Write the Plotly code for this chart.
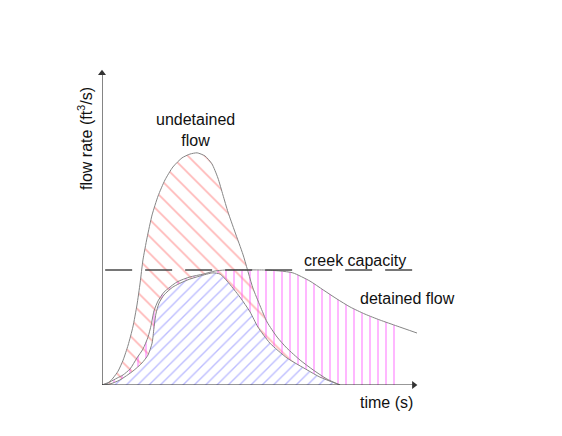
import numpy as np
import plotly.graph_objects as go

# ---- data (schematic hydrographs; time and flow in arbitrary units) ----
undetained_t = [0, 0.19, 0.35, 0.51, 0.67, 0.83, 0.98, 1.11, 1.21, 1.30, 1.43, 1.59, 1.78, 2.00, 2.25,
                2.54, 2.79, 3.02, 3.27, 3.49, 3.68, 3.84, 4.00, 4.22, 4.48, 4.79, 5.02, 5.24, 5.56,
                5.87, 6.29, 6.70, 7.14, 7.56]
undetained_q = [0, 0.06, 0.22, 0.44, 0.79, 1.27, 1.84, 2.54, 3.24, 3.97, 4.67, 5.40, 6.00, 6.51, 6.92,
                7.21, 7.33, 7.37, 7.27, 7.02, 6.57, 6.03, 5.49, 4.86, 4.13, 3.08, 2.51, 2.00, 1.52,
                1.17, 0.79, 0.48, 0.19, 0]

base_t = [0, 0.25, 0.57, 0.98, 1.27, 1.46, 1.59, 1.65, 1.71, 1.81, 1.97, 2.25, 2.70, 3.11, 3.52,
          3.75, 3.97, 4.38, 4.70, 4.95, 5.33, 5.87, 6.51, 6.92, 7.56]
base_q = [0, 0.03, 0.16, 0.44, 0.70, 0.95, 1.33, 1.81, 2.25, 2.60, 2.86, 3.11, 3.33, 3.46, 3.56,
          3.52, 3.30, 2.79, 2.32, 1.84, 1.33, 0.86, 0.48, 0.25, 0]

detained_t = [0, 0.25, 0.48, 0.67, 0.89, 1.11, 1.30, 1.46, 1.56, 1.65, 1.78, 1.97, 2.38, 2.79, 3.21,
              3.59, 3.90, 5.17, 5.65, 6.06, 6.60, 7.02, 7.46, 7.87, 8.35, 8.83, 9.37, 10.0]
detained_q = [0, 0.10, 0.22, 0.32, 0.51, 0.86, 1.14, 1.52, 1.90, 2.35, 2.67, 2.95, 3.27, 3.43, 3.52,
              3.62, 3.65, 3.65, 3.62, 3.56, 3.30, 3.02, 2.73, 2.48, 2.25, 2.06, 1.87, 1.65]

creek_capacity = 3.65
capacity_t = [0.1, 9.87]
hatch_end = 9.37

labels = {
    "undetained": "undetained<br>flow",
    "capacity": "creek capacity",
    "detained": "detained flow",
    "xlabel": "time (s)",
    "ylabel": "flow rate (ft<sup>3</sup>/s)",
}

X_MAX = 10.0
Y_MAX = 10.0
FONT = "Liberation Sans, Arial, sans-serif"
CURVE = "#858585"
AXIS = "#333333"

fig = go.Figure()

# undetained flow area (red hatch, transparent)
fig.add_trace(go.Scatter(
    x=undetained_t, y=undetained_q, mode="lines", line=dict(width=0, shape="spline", smoothing=0.6),
    fill="tozeroy", fillcolor="rgba(0,0,0,0)",
    fillpattern=dict(shape="\\", fgcolor="#ff7070", bgcolor="rgba(0,0,0,0)", size=12, solidity=0.14),
    hoverinfo="skip", showlegend=False))

# detained flow area (magenta vertical hatch), truncated
dt = np.array(detained_t)
dq = np.array(detained_q)
mask = dt <= hatch_end + 1e-9
fig.add_trace(go.Scatter(
    x=dt[mask], y=dq[mask], mode="lines", line=dict(width=0, shape="spline", smoothing=0.6),
    fill="tozeroy", fillcolor="rgba(0,0,0,0)",
    fillpattern=dict(shape="|", fgcolor="#ff4cff", bgcolor="rgba(0,0,0,0)", size=8, solidity=0.2),
    hoverinfo="skip", showlegend=False))

# base flow area (blue hatch, opaque)
fig.add_trace(go.Scatter(
    x=base_t, y=base_q, mode="lines", line=dict(color=CURVE, width=1, shape="spline", smoothing=0.6),
    fill="tozeroy", fillcolor="white",
    fillpattern=dict(shape="/", fgcolor="#7a7aff", bgcolor="white", size=8, solidity=0.17),
    hoverinfo="skip", showlegend=False))

# curve outlines on top
fig.add_trace(go.Scatter(x=undetained_t, y=undetained_q, mode="lines",
                         line=dict(color=CURVE, width=1, shape="spline", smoothing=0.6),
                         hoverinfo="skip", showlegend=False))
fig.add_trace(go.Scatter(x=detained_t, y=detained_q, mode="lines",
                         line=dict(color=CURVE, width=1, shape="spline", smoothing=0.6),
                         hoverinfo="skip", showlegend=False))

# creek capacity dashed line
fig.add_trace(go.Scatter(x=capacity_t, y=[creek_capacity, creek_capacity], mode="lines",
                         line=dict(color="#4a4a4a", width=1.6, dash="27px,13px"),
                         hoverinfo="skip", showlegend=False))

# axes lines with arrowheads
fig.add_trace(go.Scatter(x=[0, 0, None, 0, X_MAX - 0.1], y=[Y_MAX - 0.1, 0, None, 0, 0], mode="lines",
                         line=dict(color=AXIS, width=1.2), cliponaxis=False,
                         hoverinfo="skip", showlegend=False))
fig.add_trace(go.Scatter(x=[0], y=[Y_MAX - 0.1], mode="markers", cliponaxis=False,
                         marker=dict(symbol="triangle-up", size=7, color=AXIS),
                         hoverinfo="skip", showlegend=False))
fig.add_trace(go.Scatter(x=[X_MAX - 0.1], y=[0], mode="markers", cliponaxis=False,
                         marker=dict(symbol="triangle-right", size=7, color=AXIS),
                         hoverinfo="skip", showlegend=False))

txt = dict(family=FONT, size=16, color="#111111")


def label(t, q, text, **kw):
    # place in paper coordinates derived from data units (so text outside the range is kept)
    fig.add_annotation(x=t / X_MAX, y=q / Y_MAX, xref="paper", yref="paper", text=text,
                       xanchor="center", yanchor="middle", align="center",
                       showarrow=False, font=txt, **kw)


label(2.98, 8.10, labels["undetained"])
label(8.03, 3.94, labels["capacity"])
label(9.71, 2.76, labels["detained"])
label(9.02, -0.54, labels["xlabel"])
label(-0.54, 7.84, labels["ylabel"], textangle=-90)

fig.update_layout(
    width=562, height=436,
    margin=dict(l=102, r=145, t=70, b=51),
    paper_bgcolor="white", plot_bgcolor="white",
    xaxis=dict(range=[0, X_MAX], visible=False, fixedrange=True),
    yaxis=dict(range=[0, Y_MAX], visible=False, fixedrange=True),
    showlegend=False,
)

fig.write_html("out.html")
